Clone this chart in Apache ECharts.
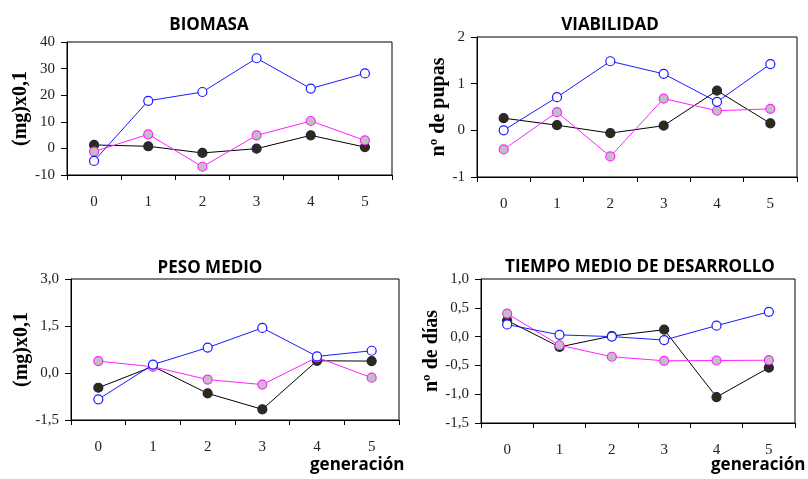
<!DOCTYPE html>
<html><head><meta charset="utf-8">
<script src="https://cdn.jsdelivr.net/npm/echarts@6/dist/echarts.min.js"></script>
<style>html,body{margin:0;padding:0;background:#fff}#c{width:808px;height:479px}</style>
</head><body><div id="c"></div>
<script>
const categories = ['0','1','2','3','4','5'];

const biomasaBlue  = [-4.7, 17.9, 21.2, 33.9, 22.5, 28.2];
const biomasaPink  = [-1.2, 5.3, -6.9, 4.9, 10.3, 3.0];
const biomasaBlack = [1.3, 0.8, -1.7, -0.1, 4.9, 0.5];

const viabBlue  = [0.0, 0.71, 1.48, 1.21, 0.61, 1.42];
const viabPink  = [-0.41, 0.39, -0.56, 0.68, 0.42, 0.46];
const viabBlack = [0.26, 0.11, -0.06, 0.10, 0.85, 0.15];

const pesoBlue  = [-0.84, 0.27, 0.81, 1.44, 0.53, 0.71];
const pesoPink  = [0.38, 0.20, -0.21, -0.37, 0.50, -0.15];
const pesoBlack = [-0.47, 0.21, -0.65, -1.16, 0.39, 0.38];

const tiempoBlue  = [0.21, 0.03, 0.0, -0.06, 0.19, 0.43];
const tiempoPink  = [0.40, -0.15, -0.35, -0.42, -0.415, -0.41];
const tiempoBlack = [0.28, -0.18, 0.01, 0.12, -1.05, -0.54];

const titles = ['BIOMASA', 'VIABILIDAD', 'PESO MEDIO', 'TIEMPO MEDIO DE DESARROLLO'];
const yNames = ['(mg)x0,1', 'nº de pupas', '(mg)x0,1', 'nº de días'];
const yRanges = [[-10, 40, 10], [-1, 2, 1], [-1.5, 3, 1.5], [-1.5, 1, 0.5]];
const xName = 'generación';

const panels = [
  [biomasaBlack, biomasaPink, biomasaBlue],
  [viabBlack, viabPink, viabBlue],
  [pesoBlack, pesoPink, pesoBlue],
  [tiempoBlack, tiempoPink, tiempoBlue]
];

const grids = [
  {left: 67, top: 42, width: 325, height: 133},
  {left: 477, top: 37, width: 320, height: 140},
  {left: 71, top: 279, width: 328, height: 141},
  {left: 481, top: 279, width: 314, height: 144}
];
const titlePos = [[204, 12], [605, 12], [205, 255], [635, 254]];
const nameGaps = [30, 28, 33, 31];
const labelFmt = [
  v => String(v),
  v => String(v),
  v => v.toFixed(1).replace('.', ','),
  v => v.toFixed(1).replace('.', ',')
];

const styles = [
  {line: '#000000', fill: '#2d2b14', border: '#20204a'},
  {line: '#ff22ff', fill: '#c0c0c0', border: '#ff22ff'},
  {line: '#1a1aff', fill: '#ffffff', border: '#1a1aff'}
];

const option = {
  animation: false,
  backgroundColor: '#fff',
  title: titles.map((t, i) => ({
    text: t, left: titlePos[i][0], top: titlePos[i][1], textAlign: 'center',
    textStyle: {fontFamily: 'Open Sans', fontWeight: 'bold', fontSize: 17, color: '#000'}
  })),
  grid: grids.map(g => Object.assign({show: true, borderColor: '#000', borderWidth: 1, backgroundColor: 'transparent'}, g)),
  xAxis: grids.map((g, i) => ({
    type: 'category', gridIndex: i, data: categories, boundaryGap: true,
    axisLine: {onZero: false, lineStyle: {color: '#000', width: 1}},
    axisTick: {show: true, length: 5, lineStyle: {color: '#000'}},
    axisLabel: {margin: 20, fontFamily: 'Liberation Serif', fontSize: 15, color: '#222'},
    splitLine: {show: false}
  })),
  yAxis: grids.map((g, i) => ({
    type: 'value', gridIndex: i,
    min: yRanges[i][0], max: yRanges[i][1], interval: yRanges[i][2],
    name: yNames[i], nameLocation: 'middle', nameGap: nameGaps[i],
    nameTextStyle: {fontFamily: 'Liberation Serif', fontWeight: 'bold', fontSize: 20, color: '#000'},
    axisLine: {show: true, lineStyle: {color: '#000', width: 1}},
    axisTick: {show: true, length: 6, lineStyle: {color: '#000'}},
    axisLabel: {margin: 12, fontFamily: 'Liberation Serif', fontSize: 15, color: '#222', formatter: labelFmt[i]},
    splitLine: {show: false}
  })),
  series: [],
  graphic: [
    {type: 'text', left: 310, top: 457, style: {text: xName, font: 'bold 17px "Open Sans"', fill: '#000'}},
    {type: 'text', left: 711, top: 457, style: {text: xName, font: 'bold 17px "Open Sans"', fill: '#000'}}
  ]
};

panels.forEach((arr, i) => {
  arr.forEach((data, k) => {
    const s = styles[k];
    option.series.push({
      type: 'line', xAxisIndex: i, yAxisIndex: i, data: data,
      symbol: 'circle', symbolSize: 9, z: 2 + k,
      lineStyle: {color: s.line, width: 1},
      itemStyle: {color: s.fill, borderColor: s.border, borderWidth: 1.2}
    });
  });
});

const chart = echarts.init(document.getElementById('c'), null, {renderer: 'canvas'});
chart.setOption(option);
</script></body></html>
